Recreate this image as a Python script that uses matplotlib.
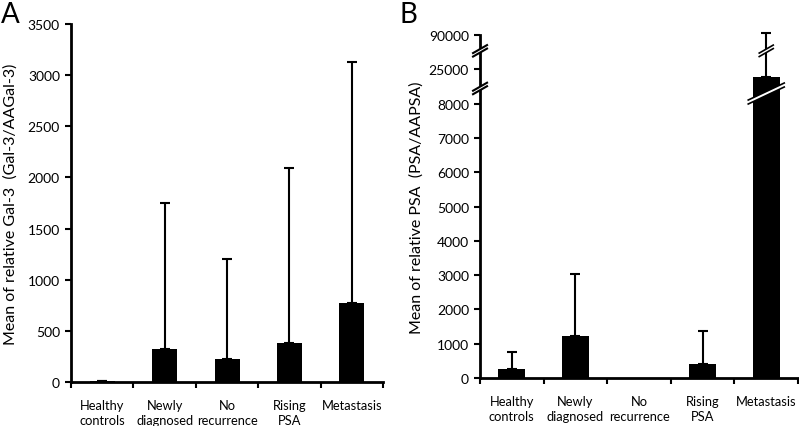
import numpy as np
import matplotlib
matplotlib.use('Agg')
import matplotlib.pyplot as plt
from matplotlib.patches import Polygon
from matplotlib.transforms import ScaledTranslation

plt.rcParams['font.family'] = ['Lato', 'DejaVu Sans']

groups = ['Healthy\ncontrols', 'Newly\ndiagnosed', 'No\nrecurrence', 'Rising\nPSA', 'Metastasis']

# panel A: relative Gal-3
gal_mean = [8, 325, 225, 385, 770]
gal_sd = [2, 1425, 975, 1705, 2360]

# panel B: relative PSA
psa_mean = [255, 1235, 0, 405, 21000]
psa_sd = [505, 1795, 0, 975, 72000]

psa_ticks = [0, 1000, 2000, 3000, 4000, 5000, 6000, 7000, 8000, 25000, 90000]

# piecewise axis for the broken y scale in B
seg_data = [0, 8000, 25000, 90000, 155000]
seg_disp = [0, 8000, 9000, 10000, 11000]


def fwd(y):
    return np.interp(y, seg_data, seg_disp)


def inv(y):
    return np.interp(y, seg_disp, seg_data)


fig = plt.figure(figsize=(7.99, 4.27), dpi=100)
axA = fig.add_axes([0.0889, 0.1030, 0.3905, 0.8384])
axB = fig.add_axes([0.6008, 0.1124, 0.3980, 0.8033])


def style(ax):
    for s in ['top', 'right']:
        ax.spines[s].set_visible(False)
    for s in ['left', 'bottom']:
        ax.spines[s].set_linewidth(2)
    ax.set_xlim(-0.5, 4.5)
    ax.set_xticks(range(len(groups)))
    ax.set_xticklabels(groups, fontsize=9.3, linespacing=1.35)
    ax.set_xticks(np.arange(-0.5, 5, 1), minor=True)
    ax.tick_params(axis='x', which='major', length=0, pad=12)
    ax.tick_params(axis='x', which='minor', length=4, width=1.5, direction='out')
    ax.tick_params(axis='y', length=4, width=1.5, direction='out', labelsize=10, pad=4)


def brk(ax, x, y, w, h, gap, lw=1.2):
    # diagonal "//" break mark drawn in pixel units around a data point
    tr = fig.dpi_scale_trans + ScaledTranslation(x, y, ax.transData)
    dx, dy, g = w / 200, h / 200, gap / 200
    poly = Polygon([(-dx, -dy - g), (dx, dy - g), (dx, dy + g), (-dx, -dy + g)],
                   closed=True, fc='white', ec='none', transform=tr,
                   clip_on=False, zorder=6)
    ax.add_patch(poly)
    for s in (-g, g):
        ax.plot([-dx, dx], [-dy + s, dy + s], color='black', lw=lw,
                transform=tr, clip_on=False, zorder=7)


x = np.arange(len(groups))

# --- A ---
axA.bar(x, gal_mean, width=0.4, color='black', zorder=3)
axA.errorbar(x, gal_mean, yerr=[np.zeros(5), gal_sd], fmt='none', ecolor='black',
             elinewidth=1.5, capsize=3.5, capthick=1.5, zorder=2)
axA.set_ylim(0, 3500)
axA.set_yticks(np.arange(0, 3501, 500))
style(axA)
axA.set_ylabel('Mean of relative Gal-3  (Gal-3/AAGal-3)', fontsize=11.5)
axA.yaxis.set_label_coords(-0.172, 0.5)

# --- B ---
axB.set_yscale('function', functions=(fwd, inv))
axB.bar(x, psa_mean, width=0.42, color='black', zorder=3)
has = np.array(psa_sd) > 0
axB.errorbar(x[has], np.array(psa_mean)[has],
             yerr=[np.zeros(has.sum()), np.array(psa_sd)[has]], fmt='none',
             ecolor='black', elinewidth=1.5, capsize=3.5, capthick=1.5,
             zorder=2, clip_on=False)
axB.set_ylim(0, 90000)
axB.set_yticks(psa_ticks)
axB.set_yticklabels([str(t) for t in psa_ticks])
axB.yaxis.set_minor_locator(matplotlib.ticker.NullLocator())
style(axB)
axB.set_ylabel('Mean of relative PSA  (PSA/AAPSA)', fontsize=11.5)
axB.yaxis.set_label_coords(-0.178, 0.5)

brk(axB, -0.5, 15500, 14, 8, 3.5, lw=1.5)
brk(axB, -0.5, 60000, 14, 8, 3.5, lw=1.5)
brk(axB, 4, 13000, 36, 17, 4, lw=1.2)
brk(axB, 4, 60000, 14, 8, 3.5, lw=1.2)

fig.text(0.001, 0.995, 'A', fontsize=20, va='top', ha='left')
fig.text(0.500, 0.995, 'B', fontsize=20, va='top', ha='left')

fig.savefig('out.png', dpi=100)
